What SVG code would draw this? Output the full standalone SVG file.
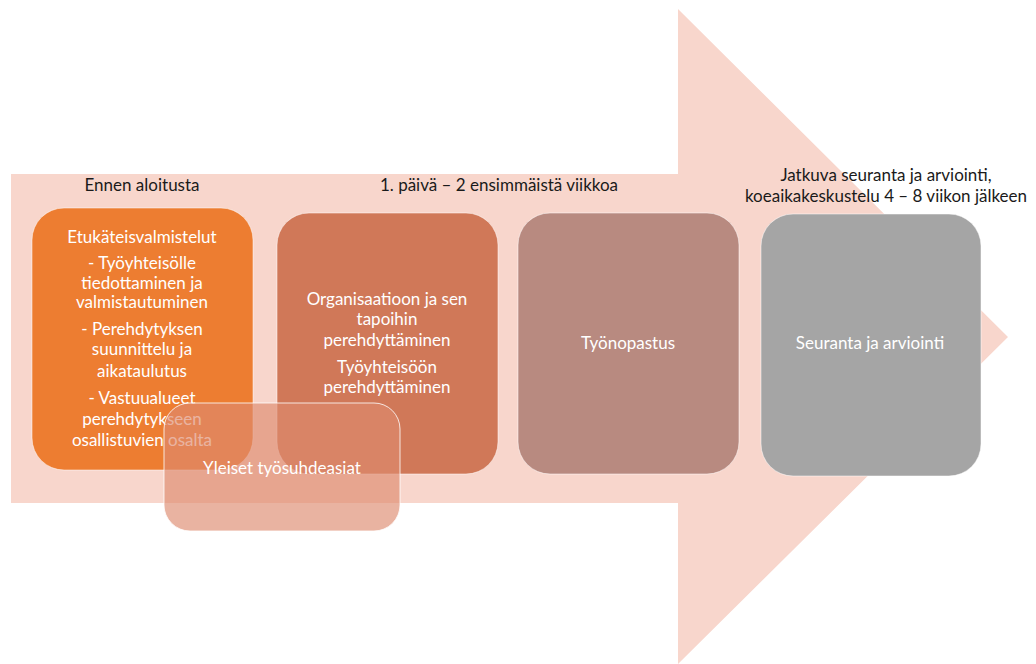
<svg xmlns="http://www.w3.org/2000/svg" width="1036" height="664" viewBox="0 0 1036 664">
<style>
.h{font-family:Lato,"Open Sans",sans-serif;font-size:17px;fill:#1a1a1a;text-anchor:middle}
.t{font-family:Lato,"Open Sans",sans-serif;font-size:17px;fill:#ffffff;text-anchor:middle}
.box{stroke:#ffffff;stroke-opacity:0.5;stroke-width:1}
</style>
<rect width="1036" height="664" fill="#ffffff"/>
<g id="arrow">
<polygon points="11,174 678,174 678,9 1008,337 678,664 678,503 11,503" fill="#f8d6cc"/>
</g>
<g id="headers">
<text class="h" x="142" y="191">Ennen aloitusta</text>
<text class="h" x="499" y="191">1. päivä – 2 ensimmäistä viikkoa</text>
<text class="h" x="886" y="181">Jatkuva seuranta ja arviointi,</text>
<text class="h" x="886" y="202">koeaikakeskustelu 4 – 8 viikon jälkeen</text>
</g>
<g id="node1">
<rect class="box" x="32" y="208" width="221" height="262" rx="32" fill="#ed7d31"/>
<text class="t" x="142" y="243">Etukäteisvalmistelut</text>
<text class="t" x="142" y="269">- Työyhteisölle</text>
<text class="t" x="142" y="289">tiedottaminen ja</text>
<text class="t" x="142" y="308">valmistautuminen</text>
<text class="t" x="142" y="335">- Perehdytyksen</text>
<text class="t" x="142" y="355">suunnittelu ja</text>
<text class="t" x="142" y="377">aikataulutus</text>
<text class="t" x="142" y="404">- Vastuualueet</text>
<text class="t" x="142" y="425">perehdytykseen</text>
<text class="t" x="142" y="446">osallistuvien osalta</text>
</g>
<g id="node2">
<rect class="box" x="277" y="213" width="221" height="261" rx="32" fill="#d07858"/>
<text class="t" x="387" y="305">Organisaatioon ja sen</text>
<text class="t" x="387" y="325">tapoihin</text>
<text class="t" x="387" y="346">perehdyttäminen</text>
<text class="t" x="387" y="373">Työyhteisöön</text>
<text class="t" x="387" y="393">perehdyttäminen</text>
</g>
<g id="node3">
<rect class="box" x="518" y="213" width="221" height="261" rx="32" fill="#b88a80"/>
<text class="t" x="628" y="349">Työnopastus</text>
</g>
<g id="node4">
<rect class="box" x="761" y="214" width="220" height="262" rx="32" fill="#a5a5a5"/>
<text class="t" x="870" y="349">Seuranta ja arviointi</text>
</g>
<g id="node5">
<rect x="164" y="403" width="236" height="128" rx="26" fill="#dd8a6e" fill-opacity="0.65" stroke="#ffffff" stroke-opacity="0.8" stroke-width="1"/>
<text class="t" x="282" y="474">Yleiset työsuhdeasiat</text>
</g>
<g id="connectors"></g>
</svg>
